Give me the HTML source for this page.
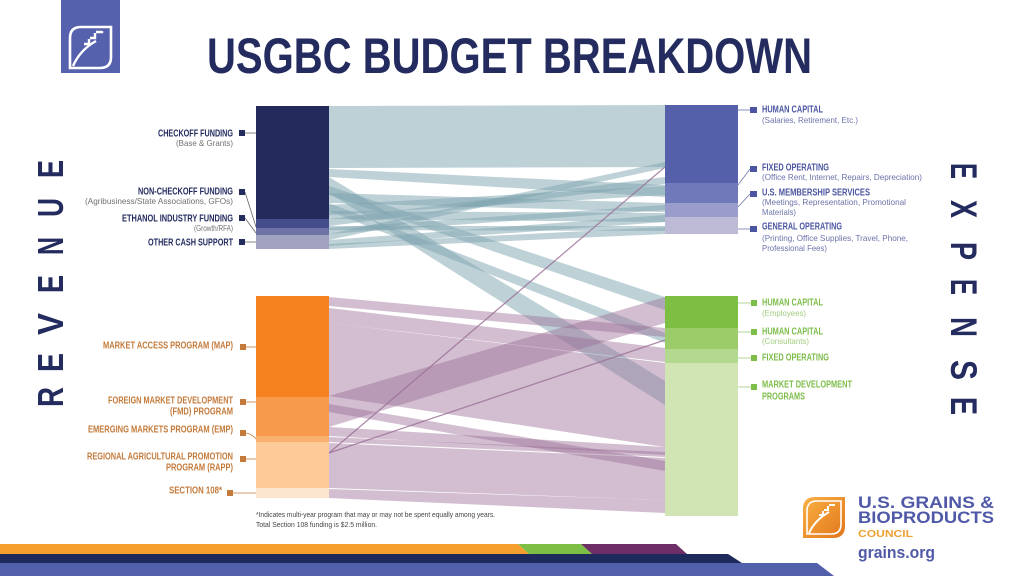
<!DOCTYPE html>
<html>
<head>
<meta charset="utf-8">
<style>
html,body{margin:0;padding:0;background:#fff;}
svg{display:block;}
text{font-family:"Liberation Sans Narrow","Liberation Sans",sans-serif;}
.b{font-weight:bold;font-size:10px;}
.s{font-size:8.5px;}
</style>
</head>
<body>
<svg width="1024" height="576" viewBox="0 0 1024 576" xmlns="http://www.w3.org/2000/svg">
<defs>
<linearGradient id="og" x1="0" y1="0" x2="1" y2="1">
<stop offset="0" stop-color="#f9b043"/>
<stop offset="1" stop-color="#e2761c"/>
</linearGradient>
</defs>
<rect width="1024" height="576" fill="#fff"/>

<!-- top-left logo -->
<rect x="61" y="0" width="59" height="73" fill="#5561ad"/>
<path d="M81 27 H111 V57 Q111 68 100 68 H70 V38 Q70 27 81 27 Z" fill="none" stroke="#fff" stroke-width="2.6"/>
<path d="M73 66 Q80 50 96 41" fill="none" stroke="#fff" stroke-width="2.4"/>
<path d="M84 44 h5 v-5 M90 38 h5 v-5 M96 32 h6 v-1" fill="none" stroke="#fff" stroke-width="2.4"/>

<!-- title -->
<text x="207" y="73" font-size="50" font-weight="bold" fill="#232b5f" textLength="605" lengthAdjust="spacingAndGlyphs">USGBC BUDGET BREAKDOWN</text>

<!-- REVENUE vertical -->
<g fill="#232b5f" font-weight="bold" font-size="36">
<text transform="translate(63,407) rotate(-90)" textLength="20" lengthAdjust="spacingAndGlyphs">R</text>
<text transform="translate(63,372) rotate(-90)" textLength="19" lengthAdjust="spacingAndGlyphs">E</text>
<text transform="translate(63,335) rotate(-90)" textLength="22" lengthAdjust="spacingAndGlyphs">V</text>
<text transform="translate(63,293) rotate(-90)" textLength="18" lengthAdjust="spacingAndGlyphs">E</text>
<text transform="translate(63,255) rotate(-90)" textLength="18" lengthAdjust="spacingAndGlyphs">N</text>
<text transform="translate(63,217) rotate(-90)" textLength="19" lengthAdjust="spacingAndGlyphs">U</text>
<text transform="translate(63,178) rotate(-90)" textLength="18" lengthAdjust="spacingAndGlyphs">E</text>
</g>
<!-- EXPENSE vertical -->
<g fill="#232b5f" font-weight="bold" font-size="37">
<text transform="translate(951,163) rotate(90)" textLength="16" lengthAdjust="spacingAndGlyphs">E</text>
<text transform="translate(951,200) rotate(90)" textLength="18" lengthAdjust="spacingAndGlyphs">X</text>
<text transform="translate(951,242) rotate(90)" textLength="18" lengthAdjust="spacingAndGlyphs">P</text>
<text transform="translate(951,279) rotate(90)" textLength="16" lengthAdjust="spacingAndGlyphs">E</text>
<text transform="translate(951,317) rotate(90)" textLength="20" lengthAdjust="spacingAndGlyphs">N</text>
<text transform="translate(951,360) rotate(90)" textLength="20" lengthAdjust="spacingAndGlyphs">S</text>
<text transform="translate(951,397) rotate(90)" textLength="18" lengthAdjust="spacingAndGlyphs">E</text>
</g>

<!-- top group flows -->
<g fill="#7da3af" fill-opacity="0.5">
<polygon points="329,106 665,105 665,167 329,168"/>
<polygon points="329,169 665,185 665,197 329,177"/>
<polygon points="329,177 665,381 665,405 329,193"/>
<polygon points="329,186 665,297 665,310 329,195"/>
<polygon points="329,203 665,333 665,343 329,211"/>
<polygon points="329,193 665,203 665,212 329,203"/>
<polygon points="329,211 665,213 665,222 329,219"/>
<polygon points="329,219 665,177 665,184 329,226"/>
<polygon points="329,205 665,186 665,195 329,215"/>
<polygon points="329,226 665,226 665,231 329,230"/>
<polygon points="329,228 665,205 665,210 329,234"/>
<polygon points="329,234 665,162 665,168 329,240"/>
<polygon points="329,240 665,215 665,222 329,246"/>
<polygon points="329,244 665,227 665,234 329,249"/>
</g>

<!-- bottom group flows -->
<g fill="#9b6f97" fill-opacity="0.45">
<polygon points="329,297 665,328 665,337 329,306"/>
<polygon points="329,308 665,348 665,362 329,323"/>
<polygon points="329,323 665,363 665,447 329,396"/>
<polygon points="329,396 665,297 665,323 329,427"/>
<polygon points="329,404 665,461 665,471 329,412"/>
<polygon points="329,427 665,447 665,455 329,436"/>
<polygon points="329,437 665,452 665,457 329,442"/>
<polygon points="329,443 665,458 665,500 329,488"/>
<polygon points="329,489 665,500 665,513 329,498"/>
</g>
<g stroke="#9b6f97" stroke-opacity="0.8" stroke-width="1.3" fill="none">
<line x1="329" y1="453" x2="665" y2="167"/>
<line x1="329" y1="453" x2="665" y2="340"/>
</g>

<!-- left nodes top -->
<rect x="256" y="106" width="73" height="113" fill="#232a5b"/>
<rect x="256" y="219" width="73" height="9" fill="#454c8c"/>
<rect x="256" y="228" width="73" height="7" fill="#6e73a5"/>
<rect x="256" y="235" width="73" height="14" fill="#a1a2c0"/>
<!-- left nodes bottom -->
<rect x="256" y="296" width="73" height="101" fill="#f5821f"/>
<rect x="256" y="397" width="73" height="39" fill="#f89a4c"/>
<rect x="256" y="436" width="73" height="6" fill="#fab06f"/>
<rect x="256" y="442" width="73" height="46" fill="#fdca98"/>
<rect x="256" y="488" width="73" height="10" fill="#fde6d0"/>
<!-- right nodes top -->
<rect x="665" y="105" width="73" height="78" fill="#5560ab"/>
<rect x="665" y="183" width="73" height="20" fill="#7079b9"/>
<rect x="665" y="203" width="73" height="14" fill="#9a9ccb"/>
<rect x="665" y="217" width="73" height="17" fill="#bdbad6"/>
<!-- right nodes bottom -->
<rect x="665" y="296" width="73" height="32" fill="#7cbf42"/>
<rect x="665" y="328" width="73" height="21" fill="#9ccb6a"/>
<rect x="665" y="349" width="73" height="14" fill="#b3d88f"/>
<rect x="665" y="363" width="73" height="153" fill="#d0e5b3"/>

<!-- left connectors -->
<g stroke="#666" stroke-width="0.8" fill="none">
<line x1="245" y1="133" x2="256" y2="133"/>
<line x1="245" y1="192" x2="256" y2="227"/>
<line x1="245" y1="218" x2="256" y2="233"/>
<line x1="245" y1="242" x2="256" y2="242"/>
</g>
<g fill="#232b5f">
<rect x="239" y="130" width="6" height="6"/>
<rect x="239" y="189" width="6" height="6"/>
<rect x="239" y="215" width="6" height="6"/>
<rect x="239" y="239" width="6" height="6"/>
</g>
<g text-anchor="end">
<text class="b" x="233" y="136.5" fill="#232b5f" textLength="75" lengthAdjust="spacingAndGlyphs">CHECKOFF FUNDING</text>
<text class="s" x="233" y="146" fill="#707070" textLength="57" lengthAdjust="spacingAndGlyphs">(Base &amp; Grants)</text>
<text class="b" x="233" y="194.5" fill="#232b5f" textLength="95" lengthAdjust="spacingAndGlyphs">NON-CHECKOFF FUNDING</text>
<text class="s" x="233" y="204" fill="#707070" textLength="148" lengthAdjust="spacingAndGlyphs">(Agribusiness/State Associations, GFOs)</text>
<text class="b" x="233" y="221.5" fill="#232b5f" textLength="111" lengthAdjust="spacingAndGlyphs">ETHANOL INDUSTRY FUNDING</text>
<text class="s" x="233" y="231" fill="#707070" textLength="39" lengthAdjust="spacingAndGlyphs">(Growth/RFA)</text>
<text class="b" x="233" y="245.5" fill="#232b5f" textLength="85" lengthAdjust="spacingAndGlyphs">OTHER CASH SUPPORT</text>
</g>

<!-- bottom-left connectors -->
<g stroke="#c47a3a" stroke-width="0.8" fill="none">
<line x1="246" y1="347" x2="256" y2="347"/>
<line x1="246" y1="402" x2="256" y2="402"/>
<path d="M246 433 Q252 434 256 439"/>
<line x1="246" y1="459" x2="256" y2="459"/>
<line x1="233" y1="493" x2="256" y2="493"/>
</g>
<g fill="#c47a3a">
<rect x="240" y="344" width="6" height="6"/>
<rect x="240" y="399" width="6" height="6"/>
<rect x="240" y="430" width="6" height="6"/>
<rect x="240" y="456" width="6" height="6"/>
<rect x="227" y="490" width="6" height="6"/>
</g>
<g text-anchor="end" fill="#c47a3a" class="b">
<text class="b" x="233" y="348.5" textLength="130" lengthAdjust="spacingAndGlyphs">MARKET ACCESS PROGRAM (MAP)</text>
<text class="b" x="233" y="403.5" textLength="125" lengthAdjust="spacingAndGlyphs">FOREIGN MARKET DEVELOPMENT</text>
<text class="b" x="233" y="414.5" textLength="63" lengthAdjust="spacingAndGlyphs">(FMD) PROGRAM</text>
<text class="b" x="233" y="432.5" textLength="145" lengthAdjust="spacingAndGlyphs">EMERGING MARKETS PROGRAM (EMP)</text>
<text class="b" x="233" y="459.5" textLength="146" lengthAdjust="spacingAndGlyphs">REGIONAL AGRICULTURAL PROMOTION</text>
<text class="b" x="233" y="470.5" textLength="67" lengthAdjust="spacingAndGlyphs">PROGRAM (RAPP)</text>
<text class="b" x="222" y="493.5" textLength="53" lengthAdjust="spacingAndGlyphs">SECTION 108*</text>
</g>

<!-- right top connectors -->
<g stroke="#6c73aa" stroke-width="0.8" fill="none">
<line x1="738" y1="110" x2="750" y2="110"/>
<line x1="738" y1="185" x2="750" y2="169"/>
<line x1="738" y1="207" x2="750" y2="194"/>
<line x1="738" y1="229" x2="750" y2="229"/>
</g>
<g fill="#4b55a1">
<rect x="750" y="107" width="7" height="6"/>
<rect x="750" y="166" width="7" height="6"/>
<rect x="750" y="191" width="7" height="6"/>
<rect x="750" y="226" width="7" height="6"/>
</g>
<text class="b" x="762" y="112.5" fill="#4b55a1" textLength="61" lengthAdjust="spacingAndGlyphs">HUMAN CAPITAL</text>
<text class="s" x="762" y="123" fill="#6c73aa" textLength="96" lengthAdjust="spacingAndGlyphs">(Salaries, Retirement, Etc.)</text>
<text class="b" x="762" y="170.5" fill="#4b55a1" textLength="67" lengthAdjust="spacingAndGlyphs">FIXED OPERATING</text>
<text class="s" x="762" y="180" fill="#6c73aa" textLength="160" lengthAdjust="spacingAndGlyphs">(Office Rent, Internet, Repairs, Depreciation)</text>
<text class="b" x="762" y="195.5" fill="#4b55a1" textLength="108" lengthAdjust="spacingAndGlyphs">U.S. MEMBERSHIP SERVICES</text>
<text class="s" x="762" y="205" fill="#6c73aa" textLength="144" lengthAdjust="spacingAndGlyphs">(Meetings, Representation, Promotional</text>
<text class="s" x="762" y="215" fill="#6c73aa" textLength="34" lengthAdjust="spacingAndGlyphs">Materials)</text>
<text class="b" x="762" y="229.5" fill="#4b55a1" textLength="80" lengthAdjust="spacingAndGlyphs">GENERAL OPERATING</text>
<text class="s" x="762" y="241" fill="#6c73aa" textLength="146" lengthAdjust="spacingAndGlyphs">(Printing, Office Supplies, Travel, Phone,</text>
<text class="s" x="762" y="251" fill="#6c73aa" textLength="65" lengthAdjust="spacingAndGlyphs">Professional Fees)</text>

<!-- right bottom connectors -->
<g stroke="#9dcb78" stroke-width="0.8" fill="none">
<line x1="738" y1="303" x2="751" y2="303"/>
<line x1="738" y1="332" x2="751" y2="332"/>
<line x1="738" y1="358" x2="751" y2="358"/>
<line x1="738" y1="387" x2="751" y2="387"/>
</g>
<g fill="#7dbd4a">
<rect x="751" y="300" width="6" height="6"/>
<rect x="751" y="329" width="6" height="6"/>
<rect x="751" y="355" width="6" height="6"/>
<rect x="751" y="384" width="6" height="6"/>
</g>
<text class="b" x="762" y="305.5" fill="#7dbd4a" textLength="61" lengthAdjust="spacingAndGlyphs">HUMAN CAPITAL</text>
<text class="s" x="762" y="316" fill="#a3cd80" textLength="44" lengthAdjust="spacingAndGlyphs">(Employees)</text>
<text class="b" x="762" y="334.5" fill="#7dbd4a" textLength="61" lengthAdjust="spacingAndGlyphs">HUMAN CAPITAL</text>
<text class="s" x="762" y="344" fill="#a3cd80" textLength="47" lengthAdjust="spacingAndGlyphs">(Consultants)</text>
<text class="b" x="762" y="360.5" fill="#7dbd4a" textLength="67" lengthAdjust="spacingAndGlyphs">FIXED OPERATING</text>
<text class="b" x="762" y="387.5" fill="#7dbd4a" textLength="90" lengthAdjust="spacingAndGlyphs">MARKET DEVELOPMENT</text>
<text class="b" x="762" y="399.5" fill="#7dbd4a" textLength="43" lengthAdjust="spacingAndGlyphs">PROGRAMS</text>

<!-- footnote -->
<text x="256" y="517" font-size="7.5" fill="#444" textLength="239" lengthAdjust="spacingAndGlyphs">*Indicates multi-year program that may or may not be spent equally among years.</text>
<text x="256" y="527" font-size="7.5" fill="#444" textLength="121" lengthAdjust="spacingAndGlyphs">Total Section 108 funding is $2.5 million.</text>

<!-- bottom-right logo -->
<path d="M815 497 H845 V526 Q845 538 833 538 H803 V509 Q803 497 815 497 Z" fill="url(#og)"/>
<path d="M817 501 H841 V524 Q841 534 831 534 H807 V511 Q807 501 817 501 Z" fill="none" stroke="#fff" stroke-width="1.6"/>
<path d="M809 533 Q815 520 829 512" fill="none" stroke="#fff" stroke-width="2"/>
<path d="M819 515 h4 v-4 M824 510 h4 v-4 M829 505 h5 v-1" fill="none" stroke="#fff" stroke-width="2"/>
<text x="858" y="508" font-size="17" font-weight="bold" fill="#5059a8" font-family="Liberation Sans, sans-serif" textLength="136" lengthAdjust="spacingAndGlyphs">U.S. GRAINS &amp;</text>
<text x="858" y="523" font-size="17" font-weight="bold" fill="#5059a8" font-family="Liberation Sans, sans-serif" textLength="136" lengthAdjust="spacingAndGlyphs">BIOPRODUCTS</text>
<text x="858" y="537" font-size="10" font-weight="bold" fill="#eda135" font-family="Liberation Sans, sans-serif" textLength="55" lengthAdjust="spacingAndGlyphs">COUNCIL</text>
<text x="858" y="558" font-size="17" font-weight="bold" fill="#5059a8" textLength="77" lengthAdjust="spacingAndGlyphs">grains.org</text>

<!-- bottom stripes -->
<polygon points="0,544 518,544 529,554 0,554" fill="#f5a02e"/>
<polygon points="518,544 581,544 592,554 529,554" fill="#7dbf45"/>
<polygon points="581,544 676,544 687,554 592,554" fill="#6e2f66"/>
<polygon points="0,554 728,554 742,563 0,563" fill="#1f2a5c"/>
<polygon points="0,563 817,563 834,576 0,576" fill="#525fab"/>
</svg>
</body>
</html>
